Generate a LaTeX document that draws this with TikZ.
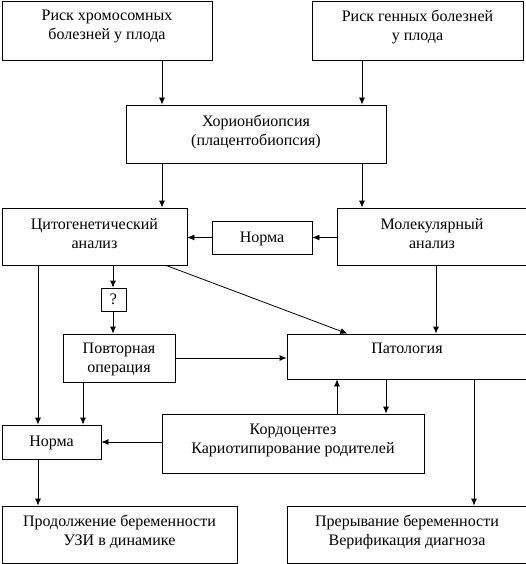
\documentclass[tikz,border=0pt]{standalone}
\usepackage{fontspec}
\setmainfont{Liberation Serif}
\usetikzlibrary{arrows.meta}

\begin{document}
\begin{tikzpicture}[
x=1pt, y=-1pt,
line width=0.8pt,
mybox/.style={
  draw,
  align=center,
  inner sep=0pt,
  font=\fontsize{16}{19}\selectfont
  },
lift/.style={text depth=#1},
>={Latex[length=7pt,width=6pt]}
]
\useasboundingbox (0,0) rectangle (526,564);
% boxes
\node[mybox,minimum width=210pt,minimum height=59pt,lift=11pt] (risk1) at (107,30.5) {Риск хромосомных\\болезней у плода};
\node[mybox,minimum width=211pt,minimum height=59pt,lift=11pt] (risk2) at (417.5,30.5) {Риск генных болезней\\у плода};
\node[mybox,minimum width=260pt,minimum height=58pt,lift=6.5pt] (chorion) at (256,134) {Хорионбиопсия\\(плацентобиопсия)};
\node[mybox,minimum width=185pt,minimum height=57pt,lift=6pt] (cyto) at (94.5,236.5) {Цитогенетический\\анализ};
\node[mybox,minimum width=100pt,minimum height=33pt,lift=0pt] (norma1) at (262,237.5) {Норма};
\node[mybox,minimum width=190pt,minimum height=57pt,lift=6pt] (molec) at (432,236.5) {Молекулярный\\анализ};
\node[mybox,minimum width=25pt,minimum height=23pt] (q) at (113.5,299.5) {?};
\node[mybox,minimum width=112pt,minimum height=48pt,lift=0pt] (povt) at (119,358) {Повторная\\операция};
\node[mybox,minimum width=240pt,minimum height=45pt,lift=15.5pt] (patol) at (407,356.5) {Патология};
\node[mybox,minimum width=99pt,minimum height=34pt,lift=1pt] (norma2) at (51.5,442) {Норма};
\node[mybox,minimum width=262pt,minimum height=59pt,lift=10pt] (kordo) at (293,443.5) {Кордоцентез\\Кариотипирование родителей};
\node[mybox,minimum width=235pt,minimum height=57pt,lift=9pt] (prod) at (119.5,534.5) {Продолжение беременности\\УЗИ в динамике};
\node[mybox,minimum width=240pt,minimum height=57pt,lift=9pt] (prer) at (407,534.5) {Прерывание беременности\\Верификация диагноза};
% columns of the vertical arrows
\coordinate (cl) at (162,0);
\coordinate (cr) at (362,0);
\coordinate (cq) at (113,0);
\coordinate (cm) at (436,0);
\coordinate (cn) at (38,0);
\coordinate (cp) at (83,0);
\coordinate (ku) at (337,0);
\coordinate (kd) at (386,0);
\coordinate (ce) at (474,0);
% arrows
\path[->]
(risk1.south -| cl) edge (chorion.north -| cl)
(risk2.south -| cr) edge (chorion.north -| cr)
(chorion.south -| cl) edge (cyto.north -| cl)
(chorion.south -| cr) edge (molec.north -| cr)
(molec.west |- norma1) edge (norma1.east)
(norma1.west) edge (cyto.east |- norma1)
(cyto.south -| cq) edge (q.north -| cq)
(q.south -| cq) edge (povt.north -| cq)
(cyto.-22.6) edge (patol.159.1)
(molec.south -| cm) edge (patol.north -| cm)
(povt.east) edge (patol.west |- povt.east)
(cyto.south -| cn) edge (norma2.north -| cn)
(povt.south -| cp) edge (norma2.north -| cp)
(kordo.north -| ku) edge (patol.south -| ku)
(patol.south -| kd) edge (kordo.north -| kd)
(patol.south -| ce) edge (prer.north -| ce)
(kordo.west |- norma2) edge (norma2.east)
(norma2.south -| cn) edge (prod.north -| cn);
\end{tikzpicture}
\end{document}
